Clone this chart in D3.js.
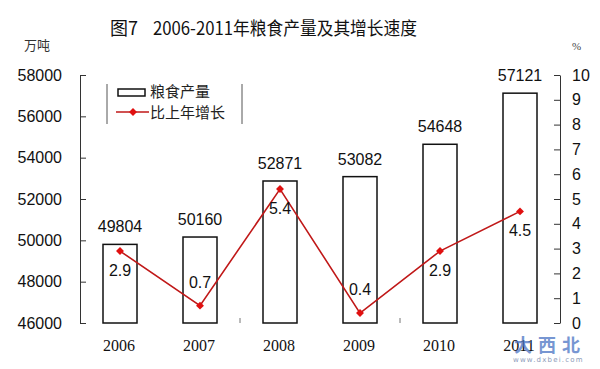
<!DOCTYPE html>
<html>
<head>
<meta charset="utf-8">
<script src="https://cdn.jsdelivr.net/npm/d3@7"></script>
<style>
  html, body { margin: 0; padding: 0; background: #fff; }
  svg { display: block; }
</style>
</head>
<body>
<svg id="chart" width="600" height="369"></svg>
<script>
// ---- data ----
const years = ["2006", "2007", "2008", "2009", "2010", "2011"];
const production = [49804, 50160, 52871, 53082, 54648, 57121];   // 万吨
const growth = [2.9, 0.7, 5.4, 0.4, 2.9, 4.5];                     // %
const leftTicks = [46000, 48000, 50000, 52000, 54000, 56000, 58000];
const rightTicks = [0, 1, 2, 3, 4, 5, 6, 7, 8, 9, 10];
const titleNum = "图7";
const titleText = "2006-2011年粮食产量及其增长速度";
const leftUnit = "万吨";
const rightUnit = "%";
const legendBar = "粮食产量";
const legendLine = "比上年增长";

// ---- drawing ----
(function () {
const svg = d3.select("#chart");
const pLeft = 80, pRight = 560, pTop = 75, pBottom = 323;
const red = "#c01818", redMarker = "#e01010";

const x = d3.scaleBand().domain(years).range([pLeft, pRight])
  .paddingInner(0.575).paddingOuter(0.2875);
const yL = d3.scaleLinear().domain([46000, 58000]).range([pBottom, pTop]);
const yR = d3.scaleLinear().domain([0, 10]).range([pBottom, pTop]);

// title
svg.append("text").attr("x", 110).attr("y", 35)
  .attr("font-family", "'Noto Sans CJK SC', sans-serif").attr("font-size", 18)
  .attr("fill", "#111").text(titleNum);
svg.append("text").attr("x", 153).attr("y", 35)
  .attr("font-family", "'Noto Sans CJK SC', sans-serif").attr("font-size", 18)
  .attr("fill", "#111").attr("textLength", 264).attr("lengthAdjust", "spacingAndGlyphs")
  .text(titleText);

// units
svg.append("text").attr("x", 24).attr("y", 50)
  .attr("font-family", "'Noto Sans CJK SC', serif").attr("font-size", 13)
  .attr("fill", "#333").text(leftUnit);
svg.append("text").attr("x", 572).attr("y", 50)
  .attr("font-family", "'Liberation Serif', serif").attr("font-size", 11)
  .attr("fill", "#444").text(rightUnit);

// left axis
const axL = d3.axisLeft(yL).tickValues(leftTicks).tickFormat(d3.format("d"))
  .tickSizeInner(-6).tickSizeOuter(0).tickPadding(18);
const gL = svg.append("g").attr("transform", `translate(${pLeft},0)`).call(axL);
// right axis
const axR = d3.axisRight(yR).tickValues(rightTicks).tickFormat(d3.format("d"))
  .tickSizeInner(-6).tickSizeOuter(0).tickPadding(12);
const gR = svg.append("g").attr("transform", `translate(${pRight},0)`).call(axR);
[gL, gR].forEach(g => {
  g.select(".domain").attr("stroke", "#333").attr("stroke-width", 1);
  g.selectAll(".tick line").attr("stroke", "#333");
  g.selectAll(".tick text").attr("font-family", "'Liberation Sans', Arial, sans-serif")
    .attr("font-size", 16).attr("fill", "#111");
});

// small x ticks at some band boundaries
const bStep = x.step();
[2, 4].forEach(i => {
  const bx = pLeft + i * bStep;
  svg.append("line").attr("x1", bx).attr("x2", bx).attr("y1", pBottom - 5).attr("y2", pBottom)
    .attr("stroke", "#777").attr("stroke-width", 1);
});

// bars
svg.append("g").selectAll("rect").data(production).join("rect")
  .attr("x", (d, i) => x(years[i]))
  .attr("y", d => yL(d))
  .attr("width", x.bandwidth())
  .attr("height", d => pBottom - yL(d))
  .attr("fill", "#fff").attr("stroke", "#111").attr("stroke-width", 1.5);

// bar value labels
svg.append("g").selectAll("text").data(production).join("text")
  .attr("x", (d, i) => x(years[i]) + x.bandwidth() / 2)
  .attr("y", d => yL(d) - 12)
  .attr("text-anchor", "middle")
  .attr("font-family", "'Liberation Sans', Arial, sans-serif").attr("font-size", 16)
  .attr("fill", "#111").text(d => d);

// x labels
svg.append("g").selectAll("text").data(years).join("text")
  .attr("x", d => x(d) + x.bandwidth() / 2 - 1)
  .attr("y", 351)
  .attr("text-anchor", "middle")
  .attr("font-family", "'Liberation Serif', 'Times New Roman', serif").attr("font-size", 16)
  .attr("fill", "#111").text(d => d);

// growth line
const cx = i => x(years[i]) + x.bandwidth() / 2;
const line = d3.line().x((d, i) => cx(i)).y(d => yR(d));
svg.append("path").datum(growth).attr("d", line)
  .attr("fill", "none").attr("stroke", red).attr("stroke-width", 1.6);
const diamond = d3.symbol().type(d3.symbolDiamond2).size(40);
svg.append("g").selectAll("path").data(growth).join("path")
  .attr("d", diamond)
  .attr("transform", (d, i) => `translate(${cx(i)},${yR(d)})`)
  .attr("fill", redMarker);

// growth labels: above the point when it is a local minimum, otherwise below
const isMin = (i) => {
  const v = growth[i];
  const l = i > 0 ? growth[i - 1] : Infinity;
  const r = i < growth.length - 1 ? growth[i + 1] : Infinity;
  return v < l && v < r;
};
svg.append("g").selectAll("text").data(growth).join("text")
  .attr("x", (d, i) => cx(i))
  .attr("y", (d, i) => isMin(i) ? yR(d) - 18 : yR(d) + 25)
  .attr("text-anchor", "middle")
  .attr("font-family", "'Liberation Sans', Arial, sans-serif").attr("font-size", 16)
  .attr("fill", "#111").text(d => d.toFixed(1));

// legend
const lg = svg.append("g");
lg.append("line").attr("x1", 107).attr("x2", 107).attr("y1", 84).attr("y2", 124)
  .attr("stroke", "#555").attr("stroke-width", 1);
lg.append("line").attr("x1", 242).attr("x2", 242).attr("y1", 84).attr("y2", 124)
  .attr("stroke", "#555").attr("stroke-width", 1);
lg.append("rect").attr("x", 118).attr("y", 89).attr("width", 27).attr("height", 7)
  .attr("fill", "#fff").attr("stroke", "#111").attr("stroke-width", 1.5);
lg.append("line").attr("x1", 116).attr("x2", 149).attr("y1", 112).attr("y2", 112)
  .attr("stroke", red).attr("stroke-width", 1.6);
lg.append("path").attr("d", diamond).attr("transform", "translate(133,112)").attr("fill", redMarker);
lg.append("text").attr("x", 150).attr("y", 97)
  .attr("font-family", "'Noto Sans CJK SC', sans-serif").attr("font-size", 15)
  .attr("fill", "#222").text(legendBar);
lg.append("text").attr("x", 150).attr("y", 118)
  .attr("font-family", "'Noto Sans CJK SC', sans-serif").attr("font-size", 15)
  .attr("fill", "#222").text(legendLine);

// watermark
svg.append("text").attr("x", 514).attr("y", 352)
  .attr("font-family", "'Noto Sans CJK SC', serif").attr("font-size", 18).attr("font-weight", 700)
  .attr("fill", "#4a74c4").attr("opacity", 0.75).attr("letter-spacing", 6).text("大西北");
svg.append("text").attr("x", 513).attr("y", 362)
  .attr("font-family", "'DejaVu Sans', sans-serif").attr("font-size", 7)
  .attr("fill", "#8a9ab8").attr("letter-spacing", 1.2).text("www.dxbei.com");
})();
</script>
</body>
</html>
